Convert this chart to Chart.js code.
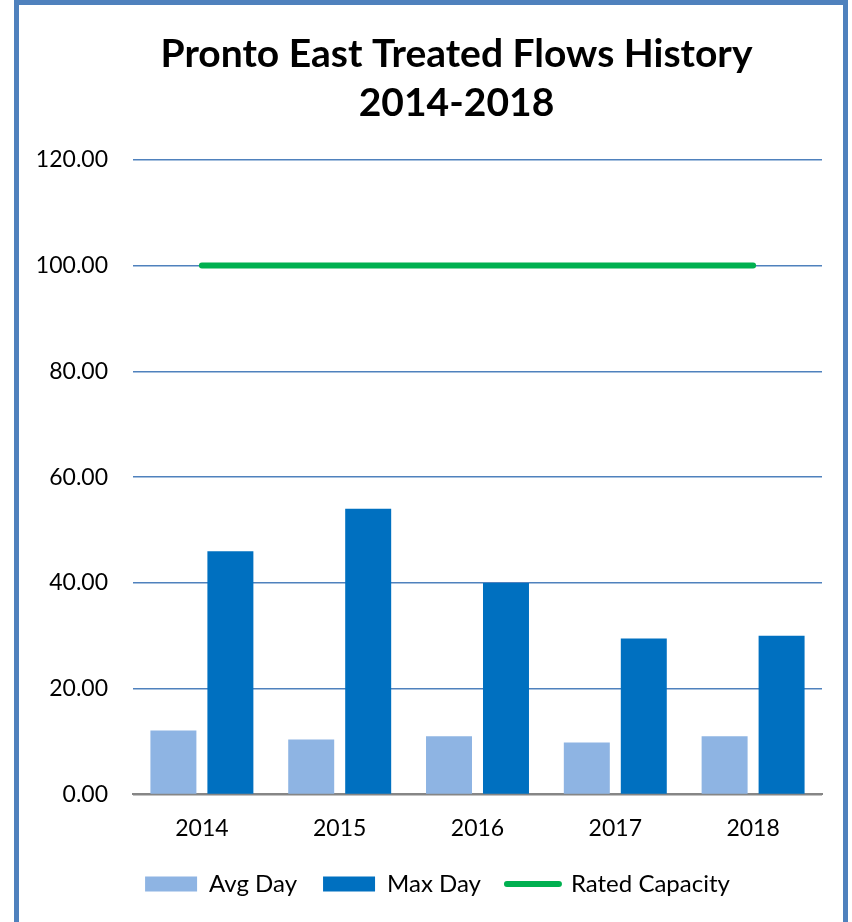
<!DOCTYPE html>
<html>
<head>
<meta charset="utf-8">
<script src="https://cdn.jsdelivr.net/npm/chart.js@4.4.1/dist/chart.umd.min.js"></script>
<style>
  html, body { margin: 0; padding: 0; background: #fff; }
  #frame {
    position: absolute; left: 14px; top: 0px;
    width: 824px; height: 930px;
    border: 5px solid #4F81BD;
    background: #fff;
  }
  #wrap { position: relative; width: 824px; height: 917px; }
</style>
</head>
<body>
<div id="frame"><div id="wrap"><canvas id="myChart"></canvas></div></div>
<script>
  const years = ['2014', '2015', '2016', '2017', '2018'];
  const avgDay = [12.1, 10.4, 11.0, 9.8, 11.0];
  const maxDay = [46.0, 54.0, 40.0, 29.5, 30.0];
  const ratedCapacity = [100, 100, 100, 100, 100];
  const titleLines = ['Pronto East Treated Flows History', '2014-2018'];

  const fontFamily = "Lato, 'Open Sans', sans-serif";

  // nudge title and legend to where the original has them
  const boxShift = {
    id: 'boxShift',
    afterLayout(chart) {
      const t = chart.titleBlock;
      if (t) { t.left += 36; t.right += 36; }
      const l = chart.legend;
      if (l) { l.left += 17; l.right += 17; l.top -= 8; l.bottom -= 8; }
    }
  };

  const data = {
    labels: years,
    datasets: [
      {
        type: 'bar',
        label: 'Avg Day',
        data: avgDay,
        backgroundColor: '#8EB4E3',
        borderWidth: 0,
        order: 2
      },
      {
        type: 'bar',
        label: 'Max Day',
        data: maxDay,
        backgroundColor: '#0070C0',
        borderWidth: 0,
        order: 2
      },
      {
        type: 'line',
        label: 'Rated Capacity',
        data: ratedCapacity,
        borderColor: '#00B050',
        backgroundColor: '#00B050',
        borderWidth: 6,
        borderCapStyle: 'round',
        pointRadius: 0,
        order: 1
      }
    ]
  };

  const config = {
    type: 'bar',
    data: data,
    plugins: [boxShift],
    options: {
      responsive: true,
      maintainAspectRatio: false,
      animation: false,
      categoryPercentage: 0.827,
      barPercentage: 0.807,
      layout: {
        padding: { left: 0, right: 21, top: 0, bottom: 8 }
      },
      plugins: {
        title: {
          display: true,
          text: titleLines,
          color: '#000',
          font: { family: fontFamily, size: 39, weight: 'bold', lineHeight: 1.28 },
          padding: { top: 24, bottom: 31 }
        },
        legend: {
          position: 'bottom',
          labels: {
            color: '#000',
            font: { family: fontFamily, size: 24 },
            usePointStyle: true,
            pointStyleWidth: 52,
            boxWidth: 52,
            boxHeight: 15,
            padding: 26,
            sort: function (a, b) { return a.datasetIndex - b.datasetIndex; },
            generateLabels: function (chart) {
              const items = Chart.defaults.plugins.legend.labels.generateLabels(chart);
              items.forEach(function (it) {
                if (it.datasetIndex === 2) {
                  it.pointStyle = 'line';
                  it.lineWidth = 6;
                  it.lineCap = 'round';
                } else {
                  it.pointStyle = 'rect';
                  it.lineWidth = 0;
                }
              });
              return items;
            }
          }
        },
        tooltip: { enabled: false }
      },
      scales: {
        x: {
          grid: { display: false },
          border: { color: '#868686', width: 2 },
          ticks: {
            color: '#000',
            font: { family: fontFamily, size: 23 },
            padding: 12
          }
        },
        y: {
          min: 0,
          max: 120,
          afterFit: function (scale) { scale.width = 114; },
          border: { display: false },
          grid: {
            drawTicks: false,
            lineWidth: 1.5,
            color: function (ctx) {
              return ctx.tick && ctx.tick.value === 0 ? '#868686' : '#4F81BD';
            }
          },
          ticks: {
            stepSize: 20,
            padding: 25,
            color: '#000',
            font: { family: fontFamily, size: 23 },
            callback: function (v) { return Number(v).toFixed(2); }
          }
        }
      }
    }
  };

  const myChart = new Chart(document.getElementById('myChart'), config);
</script>
</body>
</html>
